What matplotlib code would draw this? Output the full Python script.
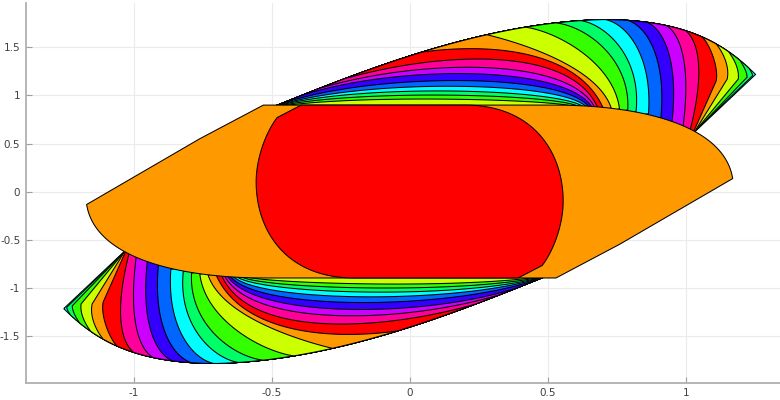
import numpy as np
import matplotlib
matplotlib.use('Agg')
import matplotlib.pyplot as plt

# hsv(10) colour cycle, set k gets colour k % 10
set_colors = ['#ff0000', '#ff9900', '#ccff00', '#33ff00', '#00ff66',
              '#00ffff', '#0066ff', '#3300ff', '#cc00ff', '#ff0099']

# outer boundary of the largest set (upper lobe): two cubic Bezier pieces
hull_x = [-0.50, -0.20, 0.25, 0.70, 1.004, 1.142, 1.253]
hull_y = [0.875, 1.22, 1.76, 1.79, 1.79, 1.533, 1.219]

# sets 2..25, upper lobe. The top edge runs along the hull to leave_x,
# then a cubic (controls c1, c2) to the corner, then straight to the foot
# inside set 1. Nothing of a set pokes out past the hull.
layer_ids = list(range(2, 26))
leave_x = [-0.50, -0.50, -0.50, -0.50, -0.50, -0.50, -0.50, -0.50, -0.50, 0.28,
           0.42, 0.53, 0.62, 0.71, 0.79, 0.86, 0.93, 1.00, 1.06, 1.11,
           1.155, 1.195, 1.228, 1.253]
c1_x = [-0.20, -0.20, -0.20, -0.20, -0.20, -0.20, -0.20, -0.20, -0.20, 0.40,
        0.54, 0.64, 0.71, 0.79, 0.86, 0.92, 0.98, 1.04, 1.09, 1.135,
        1.175, 1.21, 1.235, 1.253]
c1_y = [1.023, 1.078, 1.134, 1.179, 1.234, 1.314, 1.341, 1.358, 1.535, 1.55,
        1.66, 1.72, 1.74, 1.74, 1.72, 1.69, 1.64, 1.58, 1.52, 1.45,
        1.38, 1.31, 1.26, 1.219]
c2_x = [0.55, 0.55, 0.55, 0.55, 0.55, 0.55, 0.55, 0.55, 0.55, 0.68,
        0.74, 0.80, 0.84, 0.88, 0.93, 0.975, 1.02, 1.075, 1.12, 1.16,
        1.195, 1.222, 1.242, 1.253]
c2_y = [0.956, 1.013, 1.072, 1.159, 1.262, 1.375, 1.517, 1.712, 1.835, 1.30,
        1.33, 1.38, 1.40, 1.40, 1.38, 1.36, 1.33, 1.30, 1.28, 1.30,
        1.27, 1.24, 1.225, 1.219]
corner_x = [0.60, 0.615, 0.63, 0.64, 0.65, 0.66, 0.67, 0.68, 0.70, 0.73,
            0.76, 0.79, 0.82, 0.865, 0.91, 0.95, 0.99, 1.015, 1.11, 1.15,
            1.19, 1.222, 1.242, 1.253]
corner_y = [0.88, 0.88, 0.88, 0.88, 0.88, 0.88, 0.88, 0.88, 0.875, 0.87,
            0.86, 0.85, 0.835, 0.81, 0.77, 0.72, 0.67, 0.63, 1.15, 1.17,
            1.17, 1.19, 1.205, 1.219]
foot_x = [0.60, 0.615, 0.63, 0.64, 0.65, 0.66, 0.67, 0.68, 0.70, 0.73,
          0.76, 0.79, 0.82, 0.865, 0.91, 0.95, 0.99, 1.015, 1.025, 1.025,
          1.02, 1.015, 1.01, 1.01]
foot_y = [0.88, 0.88, 0.88, 0.88, 0.88, 0.88, 0.88, 0.88, 0.875, 0.87,
          0.86, 0.85, 0.835, 0.81, 0.77, 0.72, 0.67, 0.63, 0.60, 0.59,
          0.58, 0.57, 0.565, 0.56]

# set 1 (first half of the outline, the rest is its point reflection)
set1_x = [-0.53, 0.52, 0.85, 1.14, 1.17, 0.76]
set1_y = [0.90, 0.90, 0.90, 0.68, 0.135, -0.55]
# set 0
set0_x = [-0.393, -0.48, -0.52, -0.556, -0.556, -0.556, -0.45, -0.20]
set0_y = [0.90, 0.77, 0.62, 0.35, 0.10, -0.40, -0.90, -0.90]


def cubic(p0, p1, p2, p3, n=150):
    t = np.linspace(0, 1, n)[:, None]
    p0, p1, p2, p3 = map(np.asarray, (p0, p1, p2, p3))
    return (1 - t)**3 * p0 + 3 * (1 - t)**2 * t * p1 + 3 * (1 - t) * t**2 * p2 + t**3 * p3


hp = list(zip(hull_x, hull_y))
hull = np.vstack([cubic(*hp[0:4]), cubic(*hp[3:7])[1:]])
p_start = np.array(hp[0])
hidden = np.array([[0.2, 0.5]])

fig = plt.figure(figsize=(7.8, 4), dpi=100)
ax = fig.add_axes([0.0332, 0.0433, 0.984, 0.9485])


def draw_lobes(pts, color):
    for s in (1, -1):
        ax.fill(s * pts[:, 0], s * pts[:, 1], facecolor=color,
                edgecolor='black', linewidth=0.75, zorder=2)


for i in reversed(range(len(layer_ids))):
    k = layer_ids[i]
    lx = leave_x[i]
    on_hull = hull[hull[:, 0] < lx]
    d = np.array([lx, np.interp(lx, hull[:, 0], hull[:, 1])])
    c1 = np.array([c1_x[i], c1_y[i]])
    c2 = np.array([c2_x[i], c2_y[i]])
    corner = np.array([corner_x[i], corner_y[i]])
    top = np.vstack([p_start[None], on_hull, cubic(d, c1, c2, corner)])
    # keep the edge inside the hull
    top[:, 1] = np.minimum(top[:, 1], np.interp(top[:, 0], hull[:, 0], hull[:, 1]))
    pts = np.vstack([top, [[foot_x[i], foot_y[i]]], hidden])
    draw_lobes(pts, set_colors[k % 10])

# set 1
s1 = list(zip(set1_x, set1_y))
half1 = np.vstack([np.array(s1[0:2]), cubic(*s1[1:5])[1:], np.array(s1[5:6])])
shape1 = np.vstack([half1, -half1])
ax.fill(shape1[:, 0], shape1[:, 1], facecolor=set_colors[1],
        edgecolor='black', linewidth=0.75, zorder=3)

# set 0
s0 = list(zip(set0_x, set0_y))
half0 = np.vstack([np.array(s0[0:2]), cubic(*s0[1:5])[1:], cubic(*s0[4:8])[1:]])
shape0 = np.vstack([half0, -half0])
ax.fill(shape0[:, 0], shape0[:, 1], facecolor=set_colors[0],
        edgecolor='black', linewidth=0.75, zorder=4)

ax.set_xlim(-1.39, 1.39)
ax.set_ylim(-1.99, 1.96)
ax.set_xticks([-1, -0.5, 0, 0.5, 1])
ax.set_xticklabels(['-1', '-0.5', '0', '0.5', '1'])
ax.set_yticks([-1.5, -1, -0.5, 0, 0.5, 1, 1.5])
ax.set_yticklabels(['-1.5', '-1', '-0.5', '0', '0.5', '1', '1.5'])
ax.grid(True, color='#ebebeb', linewidth=0.8)
ax.set_axisbelow(True)
for side in ('top', 'right'):
    ax.spines[side].set_visible(False)
for side in ('left', 'bottom'):
    ax.spines[side].set_color('#b0b0b0')
    ax.spines[side].set_linewidth(1.3)
ax.tick_params(direction='in', length=4, width=0.8, color='#a0a0a0',
               labelsize=7.5, labelcolor='#404040')
ax.tick_params(axis='y', pad=4)
ax.tick_params(axis='x', pad=4)

fig.savefig('out.png', dpi=100)
